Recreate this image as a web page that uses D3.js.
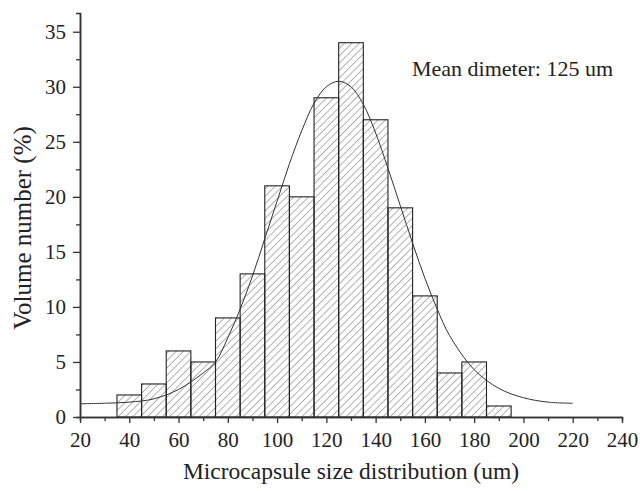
<!DOCTYPE html>
<html>
<head>
<meta charset="utf-8">
<script src="https://cdn.jsdelivr.net/npm/d3@7"></script>
<style>
  body { margin: 0; background: #fff; }
  svg text { font-family: "Liberation Serif", "Times New Roman", serif; fill: #222; }
</style>
</head>
<body>
<div id="chart"></div>
<script>
// histogram bins (centre, um) and volume number (%)
var binCentres = [40, 50, 60, 70, 80, 90, 100, 110, 120, 130, 140, 150, 160, 170, 180, 190];
var binValues = [2, 3, 6, 5, 9, 13, 21, 20, 29, 34, 27, 19, 11, 4, 5, 1];
var binWidth = 10;

// fitted curve
var fitX = [20, 30, 40, 50, 60, 70, 75, 80, 85, 90, 95, 100, 105, 110, 115, 120, 125, 130, 135, 140, 145, 150, 155, 160, 165, 170, 180, 190, 200, 210, 220];
var fitY = [1.2, 1.25, 1.35, 1.65, 2.5, 4.0, 5.0, 7.2, 9.8, 12.8, 16.2, 19.6, 23.0, 26.0, 28.5, 30.0, 30.5, 30.0, 28.4, 25.8, 22.6, 19.2, 15.8, 12.6, 9.8, 7.4, 4.3, 2.6, 1.75, 1.35, 1.25];

var xTicks = [20, 40, 60, 80, 100, 120, 140, 160, 180, 200, 220, 240];
var yTicks = [0, 5, 10, 15, 20, 25, 30, 35];

var W = 640, H = 491;
var margin = {top: 13, right: 18, bottom: 74, left: 80};
var width = W - margin.left - margin.right,
    height = H - margin.top - margin.bottom;

var svg = d3.select("#chart").append("svg")
  .attr("width", W)
  .attr("height", H);

// hatch pattern for the bars
var defs = svg.append("defs");
defs.append("pattern")
  .attr("id", "hatch")
  .attr("patternUnits", "userSpaceOnUse")
  .attr("width", 5.2)
  .attr("height", 5.2)
  .attr("patternTransform", "rotate(45)")
  .append("line")
  .attr("x1", 0).attr("y1", 0)
  .attr("x2", 0).attr("y2", 5.2)
  .attr("stroke", "#555")
  .attr("stroke-width", 0.9);

var g = svg.append("g")
  .attr("transform", "translate(" + margin.left + "," + margin.top + ")");

var x = d3.scaleLinear().domain([20, 240]).range([0, width]);
var y = d3.scaleLinear().domain([0, 36.7]).range([height, 0]);

// bars
g.selectAll("rect.bar")
  .data(binCentres)
  .enter()
  .append("rect")
  .attr("class", "bar")
  .attr("x", function(d) { return x(d - binWidth / 2); })
  .attr("width", function(d) { return x(d + binWidth / 2) - x(d - binWidth / 2); })
  .attr("y", function(d, i) { return y(binValues[i]); })
  .attr("height", function(d, i) { return y(0) - y(binValues[i]); })
  .attr("fill", "url(#hatch)")
  .attr("stroke", "#222")
  .attr("stroke-width", 1.1);

// fitted curve
var line = d3.line()
  .x(function(d) { return x(d); })
  .y(function(d, i) { return y(fitY[i]); })
  .curve(d3.curveCatmullRom);

g.append("path")
  .datum(fitX)
  .attr("d", line)
  .attr("fill", "none")
  .attr("stroke", "#333")
  .attr("stroke-width", 1);

// minor ticks
var xAxisMinor = d3.axisBottom(x).tickValues(d3.range(30, 240, 20)).tickSize(4).tickFormat("");
var yAxisMinor = d3.axisLeft(y).tickValues(d3.range(2.5, 36, 5)).tickSize(4).tickFormat("");

g.append("g")
  .attr("transform", "translate(0," + height + ")")
  .call(xAxisMinor);
g.append("g")
  .call(yAxisMinor);

// major axes
var xAxis = d3.axisBottom(x).tickValues(xTicks).tickSize(6).tickPadding(9).tickSizeOuter(0);
var yAxis = d3.axisLeft(y).tickValues(yTicks).tickSize(7).tickPadding(7).tickSizeOuter(0);

g.append("g")
  .attr("class", "x axis")
  .attr("transform", "translate(0," + height + ")")
  .call(xAxis);

g.append("g")
  .attr("class", "y axis")
  .call(yAxis);

g.selectAll(".domain").attr("stroke", "#333").attr("stroke-width", 1.5);
g.selectAll(".tick line").attr("stroke", "#333").attr("stroke-width", 1.3);
g.selectAll(".tick text").attr("font-size", 21).attr("fill", "#222")
  .style("font-family", "'Liberation Serif', serif");

// axis titles
svg.append("text")
  .attr("x", margin.left + width / 2)
  .attr("y", 479)
  .attr("text-anchor", "middle")
  .attr("font-size", 23.5)
  .text("Microcapsule size distribution (um)");

svg.append("text")
  .attr("transform", "translate(31," + 228 + ") rotate(-90)")
  .attr("text-anchor", "middle")
  .attr("font-size", 25)
  .text("Volume number (%)");

// annotation
svg.append("text")
  .attr("x", 412)
  .attr("y", 76)
  .attr("font-size", 22)
  .text("Mean dimeter: 125 um");
</script>
</body>
</html>
